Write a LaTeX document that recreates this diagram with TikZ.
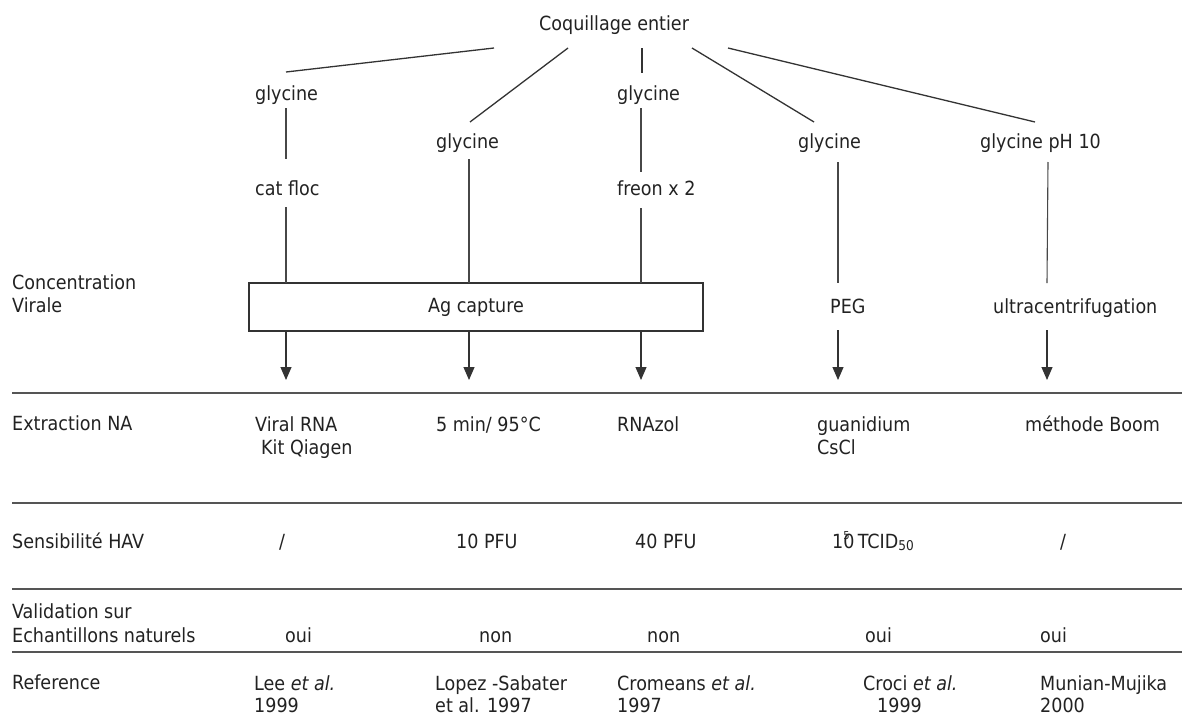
\documentclass[tikz,border=0pt]{standalone}
\usepackage{fontspec}
\setmainfont{DejaVu Sans Condensed}
\usetikzlibrary{arrows.meta}
\definecolor{ink}{HTML}{222222}
\definecolor{lineink}{HTML}{333333}
\definecolor{ruleink}{HTML}{555555}
\begin{document}
\begin{tikzpicture}[x=1pt,y=-1pt,
  txt/.style={inner sep=0pt, anchor=base west, text=ink, font=\fontsize{19.5}{24}\selectfont},
  diag/.style={draw=lineink, line width=1.3pt},
  vline/.style={draw=lineink!90, line width=1.1pt},
  rule/.style={draw=ruleink, line width=1.4pt},
  flow/.style={draw=lineink, line width=1.1pt, -{Triangle[width=11pt,length=13pt]}},
  capbox/.style={draw=lineink, line width=1.1pt, inner sep=0pt, minimum width=454pt, minimum height=48pt, text=ink, font=\fontsize{19.5}{24}\selectfont}
]
\useasboundingbox (0,0) rectangle (1186,715);
\fill[white] (0,0) rectangle (1186,715);

% --- top tree texts
\node[txt] (coq) at (539,30) {Coquillage entier};
\node[txt] (g1) at (255,100) {glycine};
\node[txt] (g2) at (436,148) {glycine};
\node[txt] (g3) at (617,100) {glycine};
\node[txt] (g4) at (798,148) {glycine};
\node[txt] (g5) at (980,148) {glycine pH 10};
\node[txt] (cf) at (255,195) {cat floc};
\node[txt] (fr) at (617,195) {freon x 2};
\node[txt] (conc1) at (12,289) {Concentration};
\node[txt] (conc2) at (12,312) {Virale};
\node[capbox] (ag) at (476,307) {\raisebox{3pt}{Ag capture}};
\node[txt] (peg) at (830,313) {PEG};
\node[txt] (uc) at (993,313) {ultracentrifugation};

% --- connector end points
\coordinate (t1) at (494,48);  \coordinate (e1) at (286,72);
\coordinate (t2) at (568,48);  \coordinate (e2) at (470,122);
\coordinate (t3) at (642,48);  \coordinate (e3) at (642,73);
\coordinate (t4) at (692,48);  \coordinate (e4) at (814,122);
\coordinate (t5) at (728,48);  \coordinate (e5) at (1035,122);

\coordinate (g1b) at (286,108); \coordinate (cft) at (286,159);
\coordinate (cfb) at (286,207); \coordinate (ag1) at (286,283);
\coordinate (g2b) at (469,159); \coordinate (ag2) at (469,283);
\coordinate (g3b) at (641,108); \coordinate (frt) at (641,172);
\coordinate (frb) at (641,208); \coordinate (ag3) at (641,283);
\coordinate (g4b) at (838,162); \coordinate (pegt) at (838,283);
\coordinate (g5b) at (1048,162); \coordinate (uct) at (1047,283);

\coordinate (ab1) at (286,331); \coordinate (ar1) at (286,380);
\coordinate (ab2) at (469,331); \coordinate (ar2) at (469,380);
\coordinate (ab3) at (641,331); \coordinate (ar3) at (641,380);
\coordinate (pegb) at (838,330); \coordinate (ar4) at (838,380);
\coordinate (ucb) at (1047,330); \coordinate (ar5) at (1047,380);

\draw[diag] (t1) -- (e1);
\draw[diag] (t2) -- (e2);
\draw[diag] (t3) -- (e3);
\draw[diag] (t4) -- (e4);
\draw[diag] (t5) -- (e5);

\draw[vline] (g1b) -- (cft);
\draw[vline] (cfb) -- (ag1);
\draw[vline] (g2b) -- (ag2);
\draw[vline] (g3b) -- (frt);
\draw[vline] (frb) -- (ag3);
\draw[vline] (g4b) -- (pegt);
\draw[vline] (g5b) -- (uct);

\draw[flow] (ab1) -- (ar1);
\draw[flow] (ab2) -- (ar2);
\draw[flow] (ab3) -- (ar3);
\draw[flow] (pegb) -- (ar4);
\draw[flow] (ucb) -- (ar5);

% --- table rules
\coordinate (r1a) at (12,393); \coordinate (r1b) at (1182,393);
\coordinate (r2a) at (12,503); \coordinate (r2b) at (1182,503);
\coordinate (r3a) at (12,589); \coordinate (r3b) at (1182,589);
\coordinate (r4a) at (12,652); \coordinate (r4b) at (1182,652);
\draw[rule] (r1a) -- (r1b);
\draw[rule] (r2a) -- (r2b);
\draw[rule] (r3a) -- (r3b);
\draw[rule] (r4a) -- (r4b);

% --- Extraction row
\node[txt] (ext) at (12,430) {Extraction NA};
\node[txt] (x1a) at (255,431) {Viral RNA};
\node[txt] (x1b) at (261,454) {Kit Qiagen};
\node[txt] (x2) at (436,431) {5 min/ 95°C};
\node[txt] (x3) at (617,431) {RNAzol};
\node[txt] (x4a) at (817,431) {guanidium};
\node[txt] (x4b) at (817,454) {CsCl};
\node[txt] (x5) at (1025,431) {méthode Boom};

% --- Sensibilite row
\node[txt] (sen) at (12,548) {Sensibilité HAV};
\node[txt] (s1) at (279,548) {/};
\node[txt] (s2) at (456,548) {10 PFU};
\node[txt] (s3) at (635,548) {40 PFU};
\node[txt] (s4) at (832,548) {1\rlap{\raisebox{0.42em}{\fontsize{11}{11}\selectfont 5}}0\,TCID\raisebox{-0.12em}{\fontsize{13.5}{13.5}\selectfont 50}};
\node[txt] (s5) at (1060,548) {/};

% --- Validation row
\node[txt] (val1) at (12,618) {Validation sur};
\node[txt] (val2) at (12,642) {Echantillons naturels};
\node[txt] (v1) at (285,642) {oui};
\node[txt] (v2) at (479,642) {non};
\node[txt] (v3) at (647,642) {non};
\node[txt] (v4) at (865,642) {oui};
\node[txt] (v5) at (1040,642) {oui};

% --- Reference row
\node[txt] (ref) at (12,689) {Reference};
\node[txt] (f1a) at (254,690) {Lee \textit{et al.}};
\node[txt] (f1b) at (254,712) {1999};
\node[txt] (f2a) at (435,690) {Lopez -Sabater};
\node[txt] (f2b) at (435,712) {et al. 1997};
\node[txt] (f3a) at (617,690) {Cromeans \textit{et al.}};
\node[txt] (f3b) at (617,712) {1997};
\node[txt] (f4a) at (863,690) {Croci \textit{et al.}};
\node[txt] (f4b) at (877,712) {1999};
\node[txt] (f5a) at (1040,690) {Munian-Mujika};
\node[txt] (f5b) at (1040,712) {2000};
\end{tikzpicture}
\end{document}
